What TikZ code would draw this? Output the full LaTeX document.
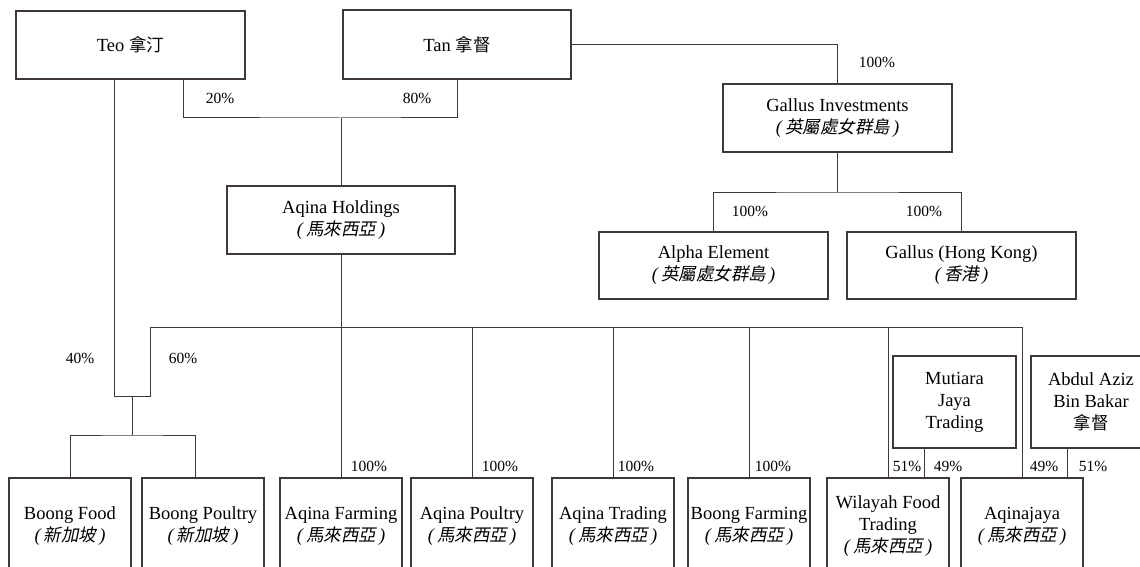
\documentclass[tikz,border=0pt]{standalone}
\usepackage{fontspec}
\setmainfont{Liberation Serif}
\newfontfamily\cjk{Noto Sans CJK TC}
\newfontfamily\cjkit[FakeSlant=0.2]{Noto Sans CJK TC}
\usetikzlibrary{positioning}
\definecolor{linegray}{RGB}{64,56,54}
\newcommand{\region}[1]{{\itshape(\,}{\cjkit\fontsize{17.5}{22}\selectfont #1}{\itshape\,)}}
\tikzset{
	entity/.style={draw=linegray, line width=1.1pt, outer sep=0pt, minimum width=122pt, minimum height=96pt, inner sep=0pt, align=center, font=\fontsize{18.5}{22}\selectfont},
	holder/.style={entity, minimum width=229pt, minimum height=68pt},
	link/.style={draw=linegray, line width=1pt},
	pct/.style={font=\fontsize{15.5}{18}\selectfont, inner sep=0pt},
}

\begin{document}
\begin{tikzpicture}[x=1pt, y=-1pt]
	\path[use as bounding box] (0,0) rectangle (1140,567);
	\clip (0,0) rectangle (1140,567);

	\node[holder] (teo) at (130.5,45) {Teo {\cjk\fontsize{17.5}{22}\selectfont 拿汀}};
	\node[holder, minimum width=228pt, minimum height=69pt] (tan) at (457,44.5) {Tan {\cjk\fontsize{17.5}{22}\selectfont 拿督}};
	\node[holder] (gallus) at (837.5,118) {Gallus Investments\\\region{英屬處女群島}};
	\node[holder, minimum width=228pt] (holdings) at (341,220) {Aqina Holdings\\\region{馬來西亞}};
	\node[holder, minimum height=67pt] (alpha) at (713.5,265.5) {Alpha Element\\\region{英屬處女群島}};
	\node[holder, minimum height=67pt] (gallushk) at (961.5,265.5) {Gallus (Hong Kong)\\\region{香港}};
	\node[entity, minimum width=123pt, minimum height=92pt] (mutiara) at (954.5,402) {Mutiara\\Jaya\\Trading};
	\node[entity, minimum width=120pt, minimum height=92pt] (abdul) at (1091,402) {Abdul Aziz\\Bin Bakar\\{\cjk\fontsize{17.5}{22}\selectfont 拿督}};

	\node[entity] (bf) at (70,526) {Boong Food\\\region{新加坡}};
	\node[entity, right=11pt of bf] (bp) {Boong Poultry\\\region{新加坡}};
	\node[entity, right=16pt of bp] (af) {Aqina Farming\\\region{馬來西亞}};
	\node[entity, right=9pt of af] (ap) {Aqina Poultry\\\region{馬來西亞}};
	\node[entity, right=19pt of ap] (at) {Aqina Trading\\\region{馬來西亞}};
	\node[entity, right=14pt of at] (bfm) {Boong Farming\\\region{馬來西亞}};
	\node[entity, right=17pt of bfm] (wft) {Wilayah Food\\Trading\\\region{馬來西亞}};
	\node[entity, right=12pt of wft] (aj) {Aqinajaya\\\region{馬來西亞}};

	\coordinate (hj) at (341,118);
	\coordinate (gj) at (837.5,192);
	\coordinate (busL) at (150,327);
	\coordinate (sgU) at (132,396);
	\coordinate (sgT) at (132,435);

	\draw[link] ([xshift=52.5pt]teo.south) |- (hj) -| (tan.south);
	\draw[link] (hj) -- (holdings.north);
	\draw[link] (tan.east) -| (gallus.north);
	\draw[link] (gallus.south) -- (gj);
	\draw[link] (alpha.north) |- (gj) -| (gallushk.north);
	\draw[link] ([xshift=-16.5pt]teo.south) |- (busL |- sgU) -- (busL) -| (aj.north);
	\draw[link] (sgU) -- (sgT);
	\draw[link] (bf.north) |- (sgT) -| ([xshift=-8pt]bp.north);
	\draw[link] (holdings.south) -- (af.north);
	\foreach \sub in {ap,at,bfm,wft}
		\draw[link] (\sub.north) -- (\sub.north |- busL);
	\draw[link] ([xshift=-30.5pt]mutiara.south) -- ([xshift=-30.5pt]mutiara.south |- wft.north);
	\draw[link] ([xshift=-24pt]abdul.south) -- ([xshift=-24pt]abdul.south |- aj.north);

	\node[pct] (p20) at (220,98) {20\%};
	\node[pct] (p80) at (417,98) {80\%};
	\node[pct] (pgi) at (877,62) {100\%};
	\node[pct] (pal) at (750,211) {100\%};
	\node[pct] (phk) at (924,211) {100\%};
	\node[pct] (p40) at (80,358) {40\%};
	\node[pct] (p60) at (183,358) {60\%};
	\node[pct] (paf) at (369,466) {100\%};
	\node[pct] (pap) at (500,466) {100\%};
	\node[pct] (pat) at (636,466) {100\%};
	\node[pct] (pbf) at (773,466) {100\%};
	\node[pct] (pw1) at (907,466) {51\%};
	\node[pct] (pw2) at (948,466) {49\%};
	\node[pct] (pa1) at (1044,466) {49\%};
	\node[pct] (pa2) at (1093,466) {51\%};
\end{tikzpicture}
\end{document}
